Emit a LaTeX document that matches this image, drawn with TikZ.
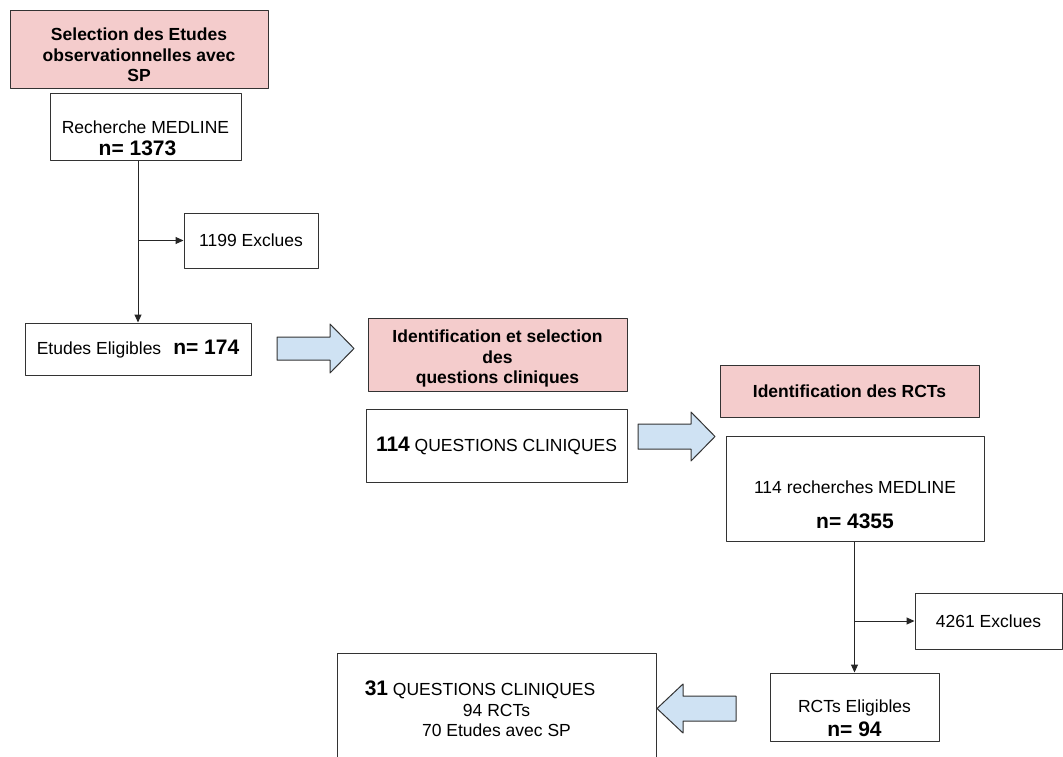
\documentclass[tikz,border=0pt]{standalone}
\usepackage{fontspec}
\setmainfont{Liberation Sans}
\usepackage{tikz}
\usepackage{xcolor}
\usetikzlibrary{arrows.meta, positioning, calc}

\definecolor{rosetitre}{HTML}{F4CCCC}
\definecolor{bleufleche}{HTML}{CFE2F3}
\definecolor{bord}{HTML}{333333}

\newcommand{\txt}{\fontsize{17.5}{20.5}\selectfont}
\newcommand{\nbig}{\fontsize{21}{24}\selectfont\bfseries}

\tikzset{
  boite/.style={draw=bord, line width=1pt, fill=white, inner sep=0pt, align=center, font=\txt},
  titre/.style={boite, fill=rosetitre, font=\txt\bfseries},
  texte/.style={inner sep=0pt, align=center, font=\txt},
  fleche/.style={draw=bord, line width=1pt, fill=bleufleche},
  lien/.style={-{Stealth[length=8pt, width=7pt, inset=0pt]}, line width=1pt, black!85},
}

\begin{document}
\begin{tikzpicture}[x=1pt, y=-1pt, line join=round]
    \useasboundingbox (0,0) rectangle (1063,756);
    \fill[white] (0,0) rectangle (1063,756);
    \clip (0,0) rectangle (1063,756);
    % Etudes observationnelles
    \node[titre, minimum width=258pt, minimum height=78pt] (t1) at (139,49) {};
    \node[texte, font=\txt\bfseries] (t1-t) at ([yshift=-6pt]t1.center) {Selection des Etudes\\observationnelles avec\\SP};
    \node[boite, minimum width=191pt, minimum height=67pt] (m1) at (145.5,126.5) {};
    \node[texte] (m1-t) at ([yshift=-11.5pt]m1.center) {Recherche MEDLINE\\[1.5pt]{\nbig n= 1373}\hspace*{16pt}};
    \node[boite, minimum width=134pt, minimum height=55pt] (ex1) at (251,240.5) {1199 Exclues};
    \node[boite, minimum width=226pt, minimum height=52pt] (e1) at (138,349) {Etudes Eligibles\hspace{12pt}{\nbig n= 174}};
    \coordinate (b1) at (e1.north |- ex1.west);
    \draw[line width=1pt, black!85] (e1.north |- m1.south) -- (b1);
    \draw[lien] (b1) -- (e1.north);
    \draw[lien] (b1) -- (ex1.west);
    % Questions cliniques
    \draw[fleche] (277,337) -- ++(53,0) -- ++(0,-13) -- ++(24,24.5) -- ++(-24,24.5) -- ++(0,-13) -- ++(-53,0) -- cycle;
    \node[titre, minimum width=259pt, minimum height=73pt] (t2) at (497.5,354.5) {};
    \node[texte, font=\txt\bfseries] (t2-t) at ([yshift=-4pt]t2.center) {Identification et selection\\des\\questions cliniques};
    \node[boite, minimum width=261pt, minimum height=73pt] (q1) at (496.5,445.5) {{\nbig 114} QUESTIONS CLINIQUES};
    % RCTs
    \draw[fleche] (638,424) -- ++(53,0) -- ++(0,-12) -- ++(24,24.5) -- ++(-24,24.5) -- ++(0,-12) -- ++(-53,0) -- cycle;
    \node[titre, minimum width=259pt, minimum height=52pt] (t3) at (849.5,391) {Identification des RCTs};
    \node[boite, minimum width=258pt, minimum height=105pt] (m2) at (855,488.5) {};
    \node[texte] (m2-t) at ([yshift=-16pt]m2.center) {114 recherches MEDLINE\\[14.5pt]{\nbig n= 4355}};
    \node[boite, minimum width=147pt, minimum height=56pt] (ex2) at (988.5,621) {4261 Exclues};
    \node[boite, minimum width=169pt, minimum height=68pt] (r2) at (854.5,707) {};
    \node[texte] (r2-t) at ([yshift=-11.5pt]r2.center) {RCTs Eligibles\\[3.5pt]{\nbig n= 94}};
    \coordinate (b2) at (r2.north |- ex2.west);
    \draw[line width=1pt, black!85] (r2.north |- m2.south) -- (b2);
    \draw[lien] (b2) -- (r2.north);
    \draw[lien] (b2) -- (ex2.west);
    % Resultat
    \draw[fleche] (736,696) -- ++(-53,0) -- ++(0,-12) -- ++(-26,24.5) -- ++(26,24.5) -- ++(0,-12) -- ++(53,0) -- cycle;
    \node[boite, minimum width=319pt, minimum height=112pt] (q2) at (496.5,709) {{\nbig 31} QUESTIONS CLINIQUES\hspace*{33pt}\\94 RCTs\\70 Etudes avec SP};
\end{tikzpicture}
\end{document}
